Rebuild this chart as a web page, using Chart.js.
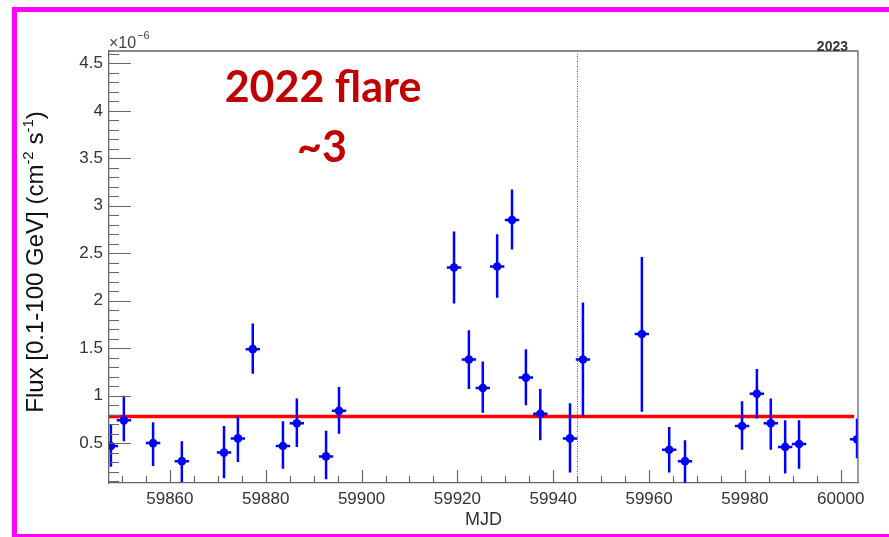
<!DOCTYPE html>
<html>
<head>
<meta charset="utf-8">
<title>Light curve MJD 59847-60003</title>
<script src="https://cdn.jsdelivr.net/npm/chart.js@4.4.1/dist/chart.umd.min.js"></script>
<style>
  html, body { margin: 0; padding: 0; background: #fff; }
  #wrap { position: relative; width: 889px; height: 537px; overflow: hidden; }
  #frame {
    position: absolute; left: 12px; top: 7px; right: 0; bottom: 0;
    box-sizing: border-box;
    border-left: 5px solid #ff00ff;
    border-top: 5px solid #ff00ff;
    border-bottom: 3px solid #ff00ff;
    pointer-events: none;
  }
</style>
</head>
<body>
<div id="wrap">
  <canvas id="lc" width="889" height="537"></canvas>
  <div id="frame"></div>
</div>
<script>
// 3-day binned fluxes, in units of 1e-6 ph cm^-2 s^-1
const mjd = [59847.7, 59850.4, 59856.5, 59862.5, 59871.3, 59874.2, 59877.3, 59883.6, 59886.5, 59892.6,
             59895.3, 59919.3, 59922.4, 59925.3, 59928.3, 59931.4, 59934.3, 59937.3, 59943.5, 59946.2,
             59958.5, 59964.2, 59967.5, 59979.4, 59982.5, 59985.4, 59988.4, 59991.3, 60003.4];
const flux = [0.47, 0.74, 0.50, 0.31, 0.40, 0.55, 1.49, 0.47, 0.71, 0.36,
              0.84, 2.35, 1.38, 1.08, 2.36, 2.85, 1.19, 0.81, 0.55, 1.38,
              1.65, 0.43, 0.31, 0.68, 1.02, 0.71, 0.46, 0.49, 0.54];
const fluxLow = [0.25, 0.52, 0.26, 0.09, 0.13, 0.30, 1.23, 0.23, 0.46, 0.12,
                 0.60, 1.97, 1.07, 0.82, 2.03, 2.54, 0.90, 0.53, 0.19, 0.78,
                 0.83, 0.19, 0.08, 0.43, 0.76, 0.43, 0.18, 0.23, 0.34];
const fluxHigh = [0.69, 1.00, 0.72, 0.52, 0.68, 0.78, 1.76, 0.73, 0.97, 0.63,
                  1.09, 2.73, 1.69, 1.36, 2.70, 3.17, 1.49, 1.07, 0.92, 1.98,
                  2.46, 0.67, 0.53, 0.94, 1.28, 0.97, 0.74, 0.74, 0.76];
const binHalfWidth = 1.5;

// constant-flux fit over the whole range
const meanFlux = 0.78;
const fitRange = [59847.3, 60002.8];

const newYear = 59945; // MJD of 2023-01-01

const xTicks = [59860, 59880, 59900, 59920, 59940, 59960, 59980, 60000];
const yTicks = [0.5, 1, 1.5, 2, 2.5, 3, 3.5, 4, 4.5];

const axisFont = 'Liberation Sans, Arial, Helvetica, sans-serif';

// ROOT-style frame: inward ticks, top/right border, error bars, labels
const rootStyle = {
  id: 'rootStyle',
  beforeDatasetsDraw(chart) {
    const { ctx, chartArea: a, scales: { x } } = chart;
    ctx.save();
    // dotted year boundary
    ctx.strokeStyle = '#555';
    ctx.lineWidth = 1;
    ctx.setLineDash([1, 1.5]);
    const xb = Math.round(x.getPixelForValue(newYear)) + 0.5;
    ctx.beginPath();
    ctx.moveTo(xb, a.top);
    ctx.lineTo(xb, a.bottom);
    ctx.stroke();
    ctx.restore();
  },
  afterDatasetsDraw(chart) {
    const { ctx, chartArea: a, scales: { x, y } } = chart;
    ctx.save();
    ctx.beginPath();
    ctx.rect(a.left, a.top, a.right - a.left, a.bottom - a.top);
    ctx.clip();
    ctx.strokeStyle = '#0000ff';
    ctx.lineWidth = 2.5;
    mjd.forEach((t, i) => {
      const px = x.getPixelForValue(t);
      const py = y.getPixelForValue(flux[i]);
      ctx.beginPath();
      ctx.moveTo(px, y.getPixelForValue(fluxLow[i]));
      ctx.lineTo(px, y.getPixelForValue(fluxHigh[i]));
      ctx.moveTo(x.getPixelForValue(t - binHalfWidth), py);
      ctx.lineTo(x.getPixelForValue(t + binHalfWidth), py);
      ctx.stroke();
    });
    ctx.restore();
  },
  afterDraw(chart) {
    const { ctx, chartArea: a, scales: { x, y } } = chart;
    ctx.save();
    ctx.strokeStyle = '#666';
    ctx.lineWidth = 1.3;
    ctx.beginPath();
    // top and right sides of the frame
    ctx.moveTo(a.left, a.top);
    ctx.lineTo(a.right, a.top);
    ctx.lineTo(a.right, a.bottom);
    ctx.stroke();

    ctx.lineWidth = 1.2;
    ctx.beginPath();
    for (let v = 0.1; v < y.max; v += 0.1) {
      const r = Math.round(v * 10) / 10;
      if (r < y.min) continue;
      const major = Math.abs(r * 2 - Math.round(r * 2)) < 1e-6;
      const py = Math.round(y.getPixelForValue(r)) + 0.5;
      ctx.moveTo(a.left, py);
      ctx.lineTo(a.left + (major ? 22 : 10), py);
    }
    for (let v = 59850; v <= x.max; v += 5) {
      if (v < x.min) continue;
      const major = v % 20 === 0;
      const px = Math.round(x.getPixelForValue(v)) + 0.5;
      ctx.moveTo(px, a.bottom);
      ctx.lineTo(px, a.bottom - (major ? 13 : 7));
    }
    ctx.stroke();

    // axis exponent and year tag
    ctx.fillStyle = '#444';
    ctx.textBaseline = 'alphabetic';
    ctx.textAlign = 'left';
    ctx.font = '16px ' + axisFont;
    ctx.fillText('\u00d710', a.left, a.top - 3);
    const w = ctx.measureText('\u00d710').width;
    ctx.font = '11px ' + axisFont;
    ctx.fillText('\u22126', a.left + w + 1, a.top - 12);

    ctx.fillStyle = '#333';
    ctx.textAlign = 'right';
    ctx.font = 'bold 14px ' + axisFont;
    ctx.fillText('2023', a.right - 10, a.top);

    // y axis title with superscripts
    const parts = [
      ['Flux [0.1-100 GeV] (cm', false],
      ['-2', true],
      [' s', false],
      ['-1', true],
      [')', false]
    ];
    const big = '24px ' + axisFont, small = '15px ' + axisFont;
    let total = 0;
    parts.forEach(([t, sup]) => { ctx.font = sup ? small : big; total += ctx.measureText(t).width; });
    ctx.translate(43, (a.top + a.bottom) / 2 - 5);
    ctx.rotate(-Math.PI / 2);
    ctx.fillStyle = '#111';
    ctx.textAlign = 'left';
    let cx = -total / 2;
    parts.forEach(([t, sup]) => {
      ctx.font = sup ? small : big;
      ctx.fillText(t, cx, sup ? -10 : 0);
      cx += ctx.measureText(t).width;
    });
    ctx.restore();

    // annotation
    ctx.save();
    ctx.fillStyle = '#c00000';
    ctx.textAlign = 'center';
    ctx.font = 'bold 43px Lato, "Open Sans", sans-serif';
    ctx.fillText('2022 flare', 323, 102);
    ctx.fillText('~3', 322, 162);
    ctx.restore();
  }
};

new Chart(document.getElementById('lc'), {
  type: 'scatter',
  data: {
    datasets: [
      {
        label: 'flux',
        data: mjd.map((t, i) => ({ x: t, y: flux[i] })),
        pointRadius: 4.3,
        pointBackgroundColor: '#0000ff',
        pointBorderColor: '#0000ff',
        pointBorderWidth: 0,
        order: 1
      },
      {
        label: 'constant fit',
        type: 'line',
        data: fitRange.map(t => ({ x: t, y: meanFlux })),
        borderColor: '#ff0000',
        borderWidth: 3.5,
        pointRadius: 0,
        fill: false,
        order: 2
      }
    ]
  },
  options: {
    responsive: false,
    animation: false,
    events: [],
    layout: { padding: { left: 20, top: 51, right: 31, bottom: 0 } },
    plugins: { legend: { display: false }, tooltip: { enabled: false } },
    scales: {
      x: {
        type: 'linear',
        min: 59847.3,
        max: 60003.6,
        afterBuildTicks: s => { s.ticks = xTicks.map(v => ({ value: v })); },
        afterFit: s => { s.height = 54; },
        grid: { display: false, drawTicks: false, tickLength: 0 },
        border: { color: '#666', width: 1.3 },
        ticks: {
          padding: 6,
          maxRotation: 0,
          color: '#333',
          font: { family: axisFont, size: 17 },
          callback: v => String(v)
        },
        title: {
          display: true,
          text: 'MJD',
          color: '#333',
          font: { family: axisFont, size: 18 },
          padding: { top: 0, bottom: 6 }
        }
      },
      y: {
        min: 0.08,
        max: 4.63,
        afterBuildTicks: s => { s.ticks = yTicks.map(v => ({ value: v })); },
        afterFit: s => { s.width = 89; },
        grid: { display: false, drawTicks: false, tickLength: 0 },
        border: { color: '#666', width: 1.3 },
        ticks: {
          padding: 6,
          color: '#333',
          font: { family: axisFont, size: 17 },
          callback: v => String(v)
        }
      }
    }
  },
  plugins: [rootStyle]
});
</script>
</body>
</html>
